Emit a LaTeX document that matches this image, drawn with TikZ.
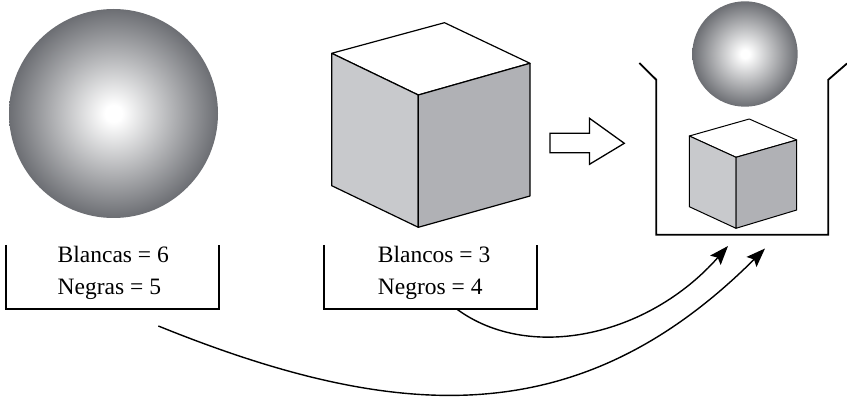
\documentclass[tikz,border=0pt]{standalone}
\usepackage{fontspec}
\setmainfont{Liberation Serif}
\usetikzlibrary{arrows.meta}
\definecolor{sphedge}{RGB}{108,110,115}
\definecolor{leftface}{RGB}{200,201,204}
\definecolor{rightface}{RGB}{176,177,181}
\pgfdeclareradialshading{sph}{\pgfpoint{0bp}{0bp}}{color(0bp)=(white); color(2bp)=(white); color(25bp)=(sphedge); color(50bp)=(sphedge)}
\tikzset{
  cubeedge/.style={line width=1.2pt, line join=round},
  boxline/.style={line width=1.8pt, line join=miter},
  lbl/.style={font=\fontsize{23.5}{28}\selectfont, anchor=base west, inner sep=0pt},
  boxnode/.style={minimum width=213pt, minimum height=64pt, inner sep=0pt},
  flow/.style={line width=1.4pt, -{Stealth[length=19pt,width=14pt,inset=3.5pt]}},
  hollow/.style={line width=1.3pt, line join=miter, fill=white}
}
\begin{document}
\begin{tikzpicture}[x=1pt,y=-1pt]
\useasboundingbox (0,0) rectangle (847,398);

% big sphere
\shade[shading=sph] (113.5,113.5) circle[radius=104.5pt];

% big cube
\filldraw[cubeedge, fill=white] (331.7,53.3) -- (444.5,22.7) -- (530,63.3) -- (418.3,95) -- cycle;
\filldraw[cubeedge, fill=leftface] (331.7,53.3) -- (418.3,95) -- (418.3,227.3) -- (331.7,185.7) -- cycle;
\filldraw[cubeedge, fill=rightface] (418.3,95) -- (530,63.3) -- (530,196) -- (418.3,227.3) -- cycle;

% hollow arrow
\draw[hollow] (550,133.3) -- (589.5,133.3) -- (589.5,118.3) -- (624.3,143.3) -- (589.5,164.3) -- (589.5,152.7) -- (550,152.7) -- cycle;

% container
\node[inner sep=0pt, minimum width=171.5pt, minimum height=154.5pt] (cont) at (742.25,157.25) {};
\coordinate (cl) at (639.3,63);
\coordinate (cr) at (847,63.5);
\draw[boxline] (cl) -- (cont.north west) -- (cont.south west) -- (cont.south east) -- (cont.north east) -- (cr);

% small sphere
\shade[shading=sph] (745,54) circle[radius=52.7pt];

% small cube
\filldraw[cubeedge, line width=1pt, fill=white] (689.3,136) -- (749.3,119) -- (796.7,140) -- (736,157.3) -- cycle;
\filldraw[cubeedge, line width=1pt, fill=leftface] (689.3,136) -- (736,157.3) -- (736,228.3) -- (689.3,206.7) -- cycle;
\filldraw[cubeedge, line width=1pt, fill=rightface] (736,157.3) -- (796.7,140) -- (796.7,210) -- (736,228.3) -- cycle;

% label boxes
\node[boxnode] (box1) at (112.5,277) {};
\draw[boxline] (box1.north west) -- (box1.south west) -- (box1.south east) -- (box1.north east);
\node[lbl] (t1) at (57.5,263) {Blancas = 6};
\node[lbl] (t2) at (57.5,295) {Negras = 5};

\node[boxnode] (box2) at (430.5,277) {};
\draw[boxline] (box2.north west) -- (box2.south west) -- (box2.south east) -- (box2.north east);
\node[lbl] (t3) at (377.7,263) {Blancos = 3};
\node[lbl] (t4) at (377.7,295) {Negros = 4};

% curved arrows
\coordinate (s1) at (456.7,309);
\coordinate (e1) at (728,246);
\coordinate (s2) at (158.3,326);
\coordinate (e2) at (765,248.5);
\draw[flow] (s1) .. controls (528.7,362.3) and (647.8,337) .. (e1);
\draw[flow] (s2) .. controls (399.3,423.5) and (580.2,432.8) .. (e2);
\end{tikzpicture}
\end{document}
